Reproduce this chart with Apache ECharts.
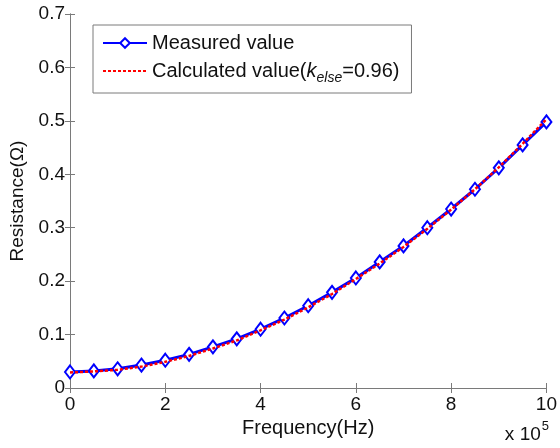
<!DOCTYPE html>
<html><head><meta charset="utf-8">
<script src="https://cdn.jsdelivr.net/npm/echarts@6/dist/echarts.min.js"></script>
<style>html,body{margin:0;padding:0;background:#fff}#c{width:560px;height:448px}</style>
</head><body><div id="c"></div>
<script>
// Frequency in units of 10^5 Hz
const frequency = [0, 0.5, 1, 1.5, 2, 2.5, 3, 3.5, 4, 4.5, 5, 5.5, 6, 6.5, 7, 7.5, 8, 8.5, 9, 9.5, 10];
const measured = [0.030, 0.032, 0.036, 0.043, 0.052, 0.063, 0.077, 0.092, 0.110, 0.131, 0.154, 0.179, 0.206, 0.236, 0.266, 0.300, 0.335, 0.372, 0.412, 0.455, 0.498];
const calculated = [0.029, 0.031, 0.034, 0.040, 0.049, 0.060, 0.074, 0.089, 0.108, 0.128, 0.151, 0.176, 0.204, 0.233, 0.264, 0.298, 0.334, 0.372, 0.413, 0.457, 0.503];
const xTicks = [0, 2, 4, 6, 8, 10];
const yTicks = [0, 0.1, 0.2, 0.3, 0.4, 0.5, 0.6, 0.7];

const FONT = 'Liberation Sans, Arial, sans-serif';
const axisCol = '#7a7a7a';
const chart = echarts.init(document.getElementById('c'), null, {renderer: 'canvas'});
const pairs = arr => frequency.map((f, i) => [f, arr[i]]);
const commonAxis = {
  axisLine: {show: true, lineStyle: {color: axisCol, width: 1}},
  axisTick: {show: true, inside: true, length: 5, lineStyle: {color: axisCol}},
  splitLine: {show: false}
};
chart.setOption({
  animation: false,
  backgroundColor: '#fff',
  textStyle: {fontFamily: FONT},
  grid: {left: 70, right: 12, top: 14, bottom: 60, show: false},
  legend: {
    left: 93, top: 25, orient: 'vertical',
    backgroundColor: '#fff', borderColor: axisCol, borderWidth: 1,
    padding: [8, 12, 8, 9], itemWidth: 44, itemHeight: 12, itemGap: 8,
    textStyle: {fontFamily: FONT, fontSize: 20, color: '#111',
      rich: {
        n: {fontFamily: FONT, fontSize: 20, color: '#111'},
        i: {fontFamily: FONT, fontSize: 20, fontStyle: 'italic', color: '#111'},
        s: {fontFamily: FONT, fontSize: 14, fontStyle: 'italic', color: '#111', padding: [14, 0, 0, 0]}
      }},
    formatter: function (name) {
      if (name === 'Measured value') return '{n|Measured value}';
      return '{n|Calculated value(}{i|k}{s|else}{n|=0.96)}';
    },
    data: [
      {name: 'Measured value', itemStyle: {borderWidth: 1.5}},
      {name: 'Calculated value', itemStyle: {opacity: 0}}
    ]
  },
  xAxis: [
    Object.assign({}, commonAxis, {
      type: 'value', min: xTicks[0], max: xTicks[xTicks.length - 1], interval: 2,
      position: 'bottom',
      axisLabel: {fontFamily: FONT, fontSize: 19, color: '#111', margin: 7},
      name: 'Frequency(Hz)', nameLocation: 'middle', nameGap: 27,
      nameTextStyle: {fontFamily: FONT, fontSize: 20, color: '#111'}
    }),
    Object.assign({}, commonAxis, {
      type: 'value', min: 0, max: 10, interval: 2, position: 'top',
      axisLabel: {show: false}
    })
  ],
  yAxis: [
    Object.assign({}, commonAxis, {
      type: 'value', min: yTicks[0], max: yTicks[yTicks.length - 1], interval: 0.1,
      position: 'left',
      axisLabel: {fontFamily: FONT, fontSize: 19, color: '#111', margin: 5,
        formatter: v => (Math.round(v * 10) / 10).toString()},
      name: 'Resistance(Ω)', nameLocation: 'middle', nameGap: 42,
      nameTextStyle: {fontFamily: FONT, fontSize: 19, color: '#111'}
    }),
    Object.assign({}, commonAxis, {
      type: 'value', min: 0, max: 0.7, interval: 0.1, position: 'right',
      axisLabel: {show: false}
    })
  ],
  graphic: [{
    type: 'text', right: 11, top: 420,
    style: {
      text: '{a|x 10}{b|5}', fontFamily: FONT,
      rich: {
        a: {fontFamily: FONT, fontSize: 19, fill: '#111', padding: [8, 0, 0, 0]},
        b: {fontFamily: FONT, fontSize: 13, fill: '#111', padding: [0, 0, 9, 1]}
      }
    }
  }],
  series: [
    {
      name: 'Measured value', type: 'line', xAxisIndex: 0, yAxisIndex: 0,
      data: pairs(measured),
      symbol: 'emptyDiamond', symbolSize: [10, 13], showAllSymbol: true,
      lineStyle: {color: '#0000ff', width: 3},
      itemStyle: {color: '#0000ff', borderColor: '#0000ff', borderWidth: 2.5},
      z: 2
    },
    {
      name: 'Calculated value', type: 'line', xAxisIndex: 0, yAxisIndex: 0,
      data: pairs(calculated),
      symbol: 'none',
      lineStyle: {color: '#ff0000', width: 2.5, type: [3, 2]},
      itemStyle: {color: '#ff0000'},
      z: 3
    }
  ]
});
</script></body></html>
